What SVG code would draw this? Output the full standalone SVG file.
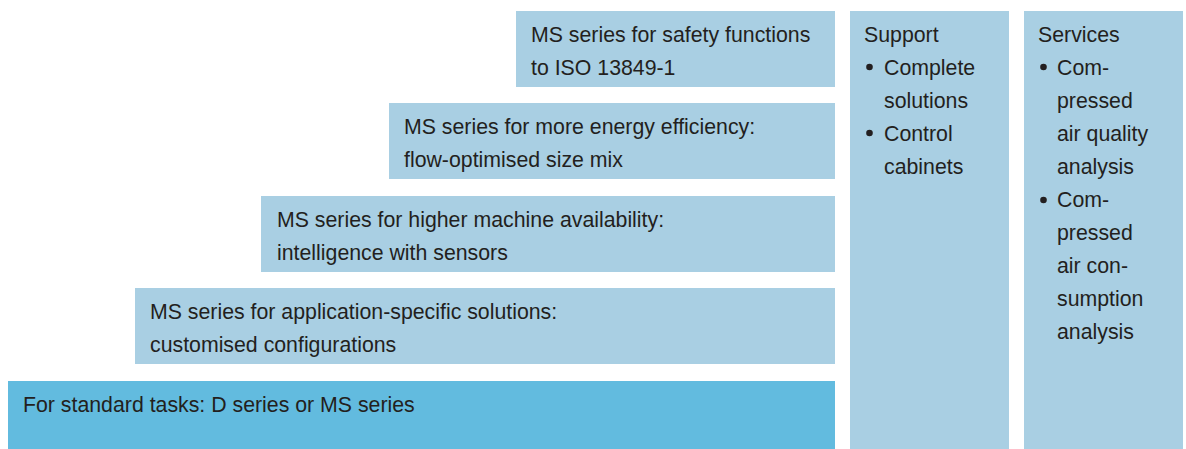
<svg xmlns="http://www.w3.org/2000/svg" width="1186" height="449" viewBox="0 0 1186 449">
<style>
.b{fill:#a9cfe3}
.d{fill:#62bbdf}
text{font-family:"Liberation Sans",Arial,sans-serif;font-size:21.3px;fill:#231f20}
.dot{fill:#231f20}
</style>
<rect width="1186" height="449" fill="#ffffff"/>
<g id="safety">
<rect class="b" x="516" y="11" width="319" height="76"/>
<text x="531" y="42">MS series for safety functions</text>
<text x="531" y="75">to ISO 13849-1</text>
</g>
<g id="energy">
<rect class="b" x="389" y="103" width="446" height="76"/>
<text x="404" y="134">MS series for more energy efficiency:</text>
<text x="404" y="167">flow-optimised size mix</text>
</g>
<g id="availability">
<rect class="b" x="261" y="196" width="574" height="76"/>
<text x="277" y="227">MS series for higher machine availability:</text>
<text x="277" y="260">intelligence with sensors</text>
</g>
<g id="application">
<rect class="b" x="135" y="288" width="700" height="76"/>
<text x="150" y="319">MS series for application-specific solutions:</text>
<text x="150" y="352">customised configurations</text>
</g>
<g id="standard">
<rect class="d" x="8" y="381" width="827" height="68"/>
<text x="23" y="412">For standard tasks: D series or MS series</text>
</g>
<g id="support">
<rect class="b" x="850" y="11" width="159" height="438"/>
<text x="864" y="42">Support</text>
<circle class="dot" cx="869.5" cy="67" r="3.3"/>
<text x="884" y="75">Complete</text>
<text x="884" y="108">solutions</text>
<circle class="dot" cx="869.5" cy="133" r="3.3"/>
<text x="884" y="141">Control</text>
<text x="884" y="174">cabinets</text>
</g>
<g id="services">
<rect class="b" x="1024" y="11" width="159" height="438"/>
<text x="1038" y="42">Services</text>
<circle class="dot" cx="1043.5" cy="67" r="3.3"/>
<text x="1057" y="75">Com-</text>
<text x="1057" y="108">pressed</text>
<text x="1057" y="141">air quality</text>
<text x="1057" y="174">analysis</text>
<circle class="dot" cx="1043.5" cy="200" r="3.3"/>
<text x="1057" y="207">Com-</text>
<text x="1057" y="240">pressed</text>
<text x="1057" y="273">air con-</text>
<text x="1057" y="306">sumption</text>
<text x="1057" y="339">analysis</text>
</g>
<g id="connectors"></g>
</svg>
